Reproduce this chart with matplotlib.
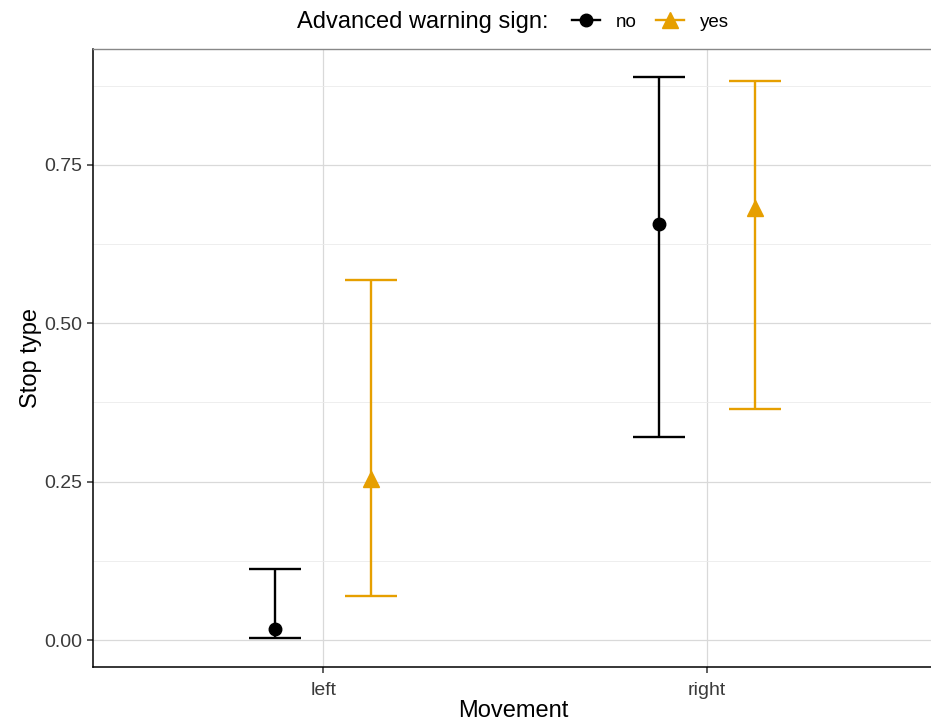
import matplotlib
matplotlib.use("Agg")
import matplotlib.pyplot as plt
from matplotlib.lines import Line2D
import numpy as np

plt.rcParams['font.family'] = ['Liberation Sans', 'DejaVu Sans']

# data
movements = ["left", "right"]
signs = ["no", "yes"]
est_no = [0.018, 0.657]
low_no = [0.003, 0.321]
high_no = [0.112, 0.889]
est_yes = [0.254, 0.682]
low_yes = [0.069, 0.365]
high_yes = [0.568, 0.883]

colors = {"no": "black", "yes": "#E69F00"}
markers = {"no": "o", "yes": "^"}
msizes = {"no": 9, "yes": 11.5}
W, H = 931, 723
fig = plt.figure(figsize=(W / 100, H / 100), dpi=100)
# panel runs off the right edge like in the original
ax = fig.add_axes([93 / W, 1 - 667 / H, (937 - 93) / W, (667 - 49) / H])
ax.set_facecolor("white")

x = np.arange(1, len(movements) + 1)
dodge = 0.125
series = [("no", est_no, low_no, high_no, -dodge),
          ("yes", est_yes, low_yes, high_yes, dodge)]
for name, est, lo, hi, off in series:
    est = np.array(est)
    err = [est - np.array(lo), np.array(hi) - est]
    ax.errorbar(x + off, est, yerr=err, fmt=markers[name], color=colors[name],
                ecolor=colors[name], elinewidth=1.7, capsize=18.5, capthick=1.7,
                markersize=msizes[name], zorder=3)

ax.set_xlim(0.4, 2.6)
ax.set_ylim(-0.0426, 0.933)
ax.set_xticks(x)
ax.set_xticklabels(movements)
ax.set_yticks([0, 0.25, 0.5, 0.75])
ax.set_yticklabels(["0.00", "0.25", "0.50", "0.75"])
ax.set_yticks([0.125, 0.375, 0.625, 0.875], minor=True)
ax.grid(True, which="major", color="#D9D9D9", lw=0.9, zorder=0)
ax.grid(True, which="minor", axis="y", color="#EBEBEB", lw=0.6, zorder=0)
ax.set_axisbelow(True)
ax.tick_params(axis="both", which="major", labelsize=14, labelcolor="#3A3A3A",
               length=4.5, width=1.1, color="#333333", pad=3)
ax.tick_params(axis="x", which="major", pad=6)
ax.tick_params(axis="both", which="minor", length=0)
for s in ["left", "bottom"]:
    ax.spines[s].set_color("black")
    ax.spines[s].set_linewidth(1.1)
ax.spines["top"].set_color("#888888")
ax.spines["top"].set_linewidth(1.0)
ax.spines["right"].set_visible(False)

ax.set_xlabel("Movement", fontsize=17)
ax.set_ylabel("Stop type", fontsize=17, labelpad=2)
ax.xaxis.set_label_coords((513 - 93) / (937 - 93), -0.054)

# legend laid out horizontally with the title on the left
fig.text(297 / W, 1 - 22 / H, "Advanced warning sign:", fontsize=17,
         ha="left", va="center")
handles = [Line2D([], [], color=colors[s], marker=markers[s], markersize=msizes[s], lw=1.7)
           for s in signs]
fig.legend(handles, signs, loc="center left", bbox_to_anchor=(572 / W, 1 - 22 / H),
           ncol=2, frameon=False, fontsize=13.5, handlelength=1.5,
           handletextpad=0.85, columnspacing=1.0, borderpad=0, borderaxespad=0)

fig.savefig("out.png", dpi=100)
